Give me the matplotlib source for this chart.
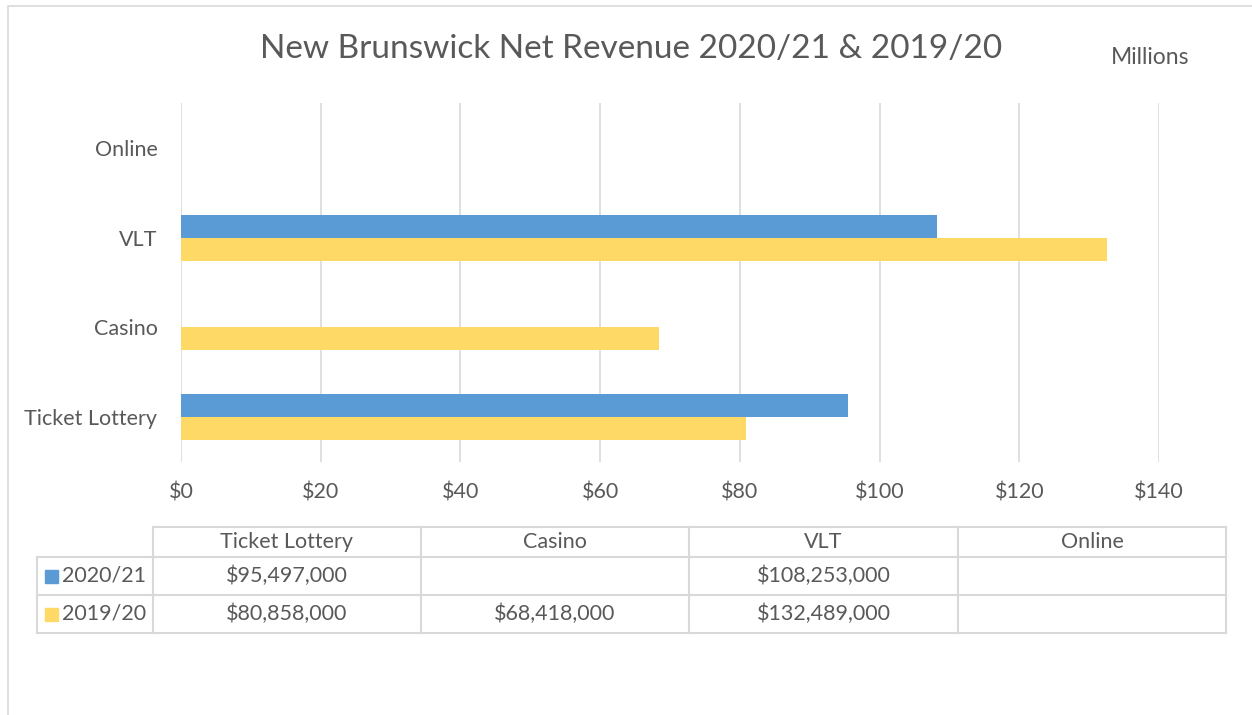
import matplotlib
matplotlib.use('Agg')
import matplotlib.pyplot as plt
from matplotlib.patches import Rectangle
import numpy as np

categories = ['Ticket Lottery', 'Casino', 'VLT', 'Online']
series_names = ['2020/21', '2019/20']
rev_2021 = [95.497, None, 108.253, None]
rev_1920 = [80.858, 68.418, 132.489, None]
x_ticks = [0, 20, 40, 60, 80, 100, 120, 140]
colors = ['#5B9BD5', '#FFD966']

W, H = 1252, 715
TXT = '#595959'
GRID = '#D9D9D9'
FS = 15.5
plt.rcParams['font.family'] = ['Lato', 'DejaVu Sans']

fig = plt.figure(figsize=(W / 100, H / 100), dpi=100)


def px_rect(x0, y0, x1, y1):
    return [x0 / W, 1 - y1 / H, (x1 - x0) / W, (y1 - y0) / H]


# overlay for frame, title and data table (pixel coordinates)
ov = fig.add_axes([0, 0, 1, 1])
ov.set_xlim(0, W)
ov.set_ylim(H, 0)
ov.axis('off')
ov.plot([8, 8, W], [H, 6, 6], color=GRID, lw=1.2)
ov.text(631, 49, 'New Brunswick Net Revenue 2020/21 & 2019/20', ha='center', va='center',
        fontsize=24, color=TXT)
ov.text(1150, 58, 'Millions', ha='center', va='center', fontsize=16.5, color=TXT)

ax = fig.add_axes(px_rect(181, 103, 1159, 462))
y = np.arange(len(categories))
h = 0.256
v21 = [np.nan if v is None else v for v in rev_2021]
v20 = [np.nan if v is None else v for v in rev_1920]
ax.barh(y + h / 2, v21, height=h, color=colors[0], zorder=3)
ax.barh(y - h / 2, v20, height=h, color=colors[1], zorder=3)
ax.set_xlim(0, 140)
ax.set_ylim(-0.5, len(categories) - 0.5)
ax.set_xticks(x_ticks)
ax.set_xticklabels([f'${t}' for t in x_ticks])
ax.set_yticks(y)
ax.set_yticklabels(categories)
ax.grid(axis='x', color=GRID, lw=1.2, zorder=0)
for s in ax.spines.values():
    s.set_visible(False)
ax.tick_params(axis='x', length=0, pad=15, labelsize=FS, labelcolor=TXT)
ax.tick_params(axis='y', length=0, pad=17, labelsize=FS, labelcolor=TXT)

# data table
col_edges = [153, 421, 689, 958, 1226]
row_edges = [527, 557, 595, 633]
left = 37
ov.plot([col_edges[0], col_edges[-1]], [row_edges[0]] * 2, color=GRID, lw=1.5)
for ry in row_edges[1:]:
    ov.plot([left, col_edges[-1]], [ry, ry], color=GRID, lw=1.5)
ov.plot([left, left], [row_edges[1], row_edges[-1]], color=GRID, lw=1.5)
for cx in col_edges:
    ov.plot([cx, cx], [row_edges[0], row_edges[-1]], color=GRID, lw=1.5)

for i, cat in enumerate(categories):
    cx = (col_edges[i] + col_edges[i + 1]) / 2
    ov.text(cx, (row_edges[0] + row_edges[1]) / 2, cat, ha='center', va='center',
            fontsize=FS, color=TXT)

for r, (name, vals) in enumerate(zip(series_names, [rev_2021, rev_1920])):
    cy = (row_edges[r + 1] + row_edges[r + 2]) / 2
    ov.add_patch(Rectangle((45, cy - 6.5), 13, 13, color=colors[r]))
    ov.text(62, cy, name, ha='left', va='center', fontsize=FS, color=TXT)
    for i, v in enumerate(vals):
        if v is None:
            continue
        cx = (col_edges[i] + col_edges[i + 1]) / 2
        ov.text(cx, cy, f'${round(v * 1e6):,}', ha='center', va='center',
                fontsize=FS, color=TXT)

fig.savefig('out.png', dpi=100)
